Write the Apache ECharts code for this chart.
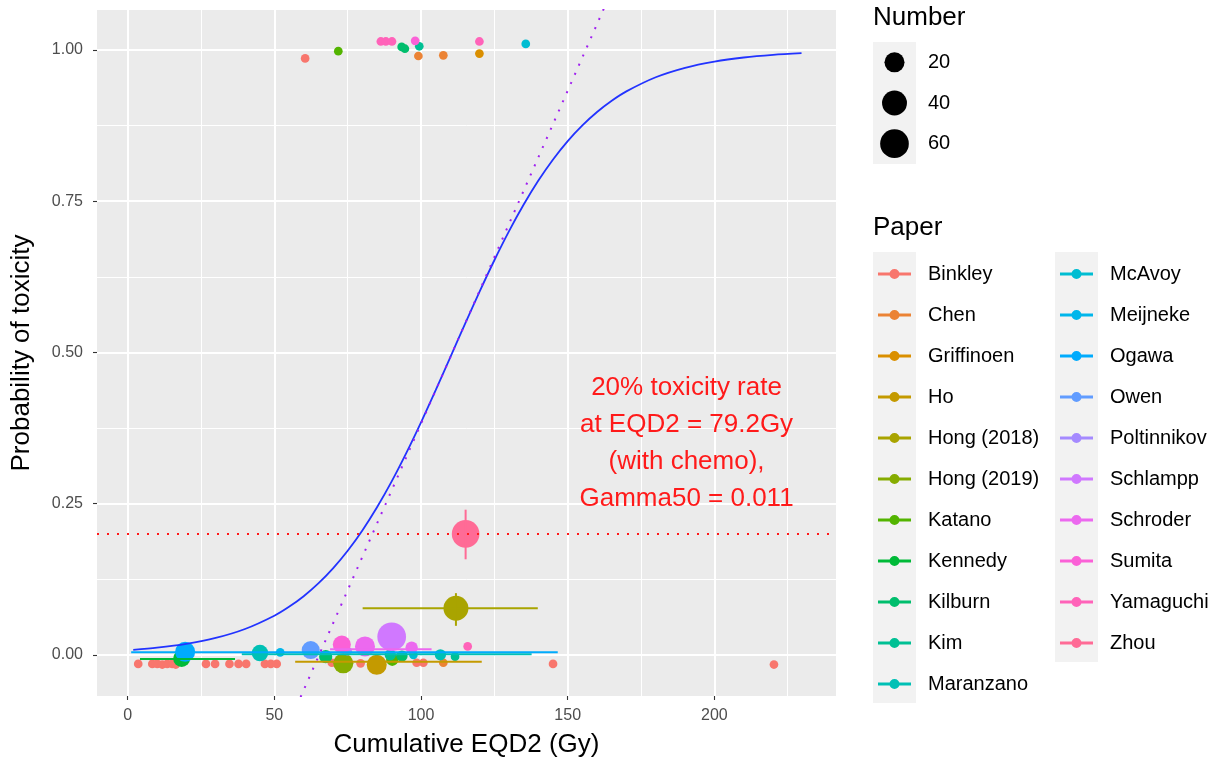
<!DOCTYPE html>
<html>
<head>
<meta charset="utf-8">
<style>
  html, body { margin: 0; padding: 0; background: #ffffff; }
  #chart { width: 1232px; height: 760px; }
</style>
<script src="https://cdn.jsdelivr.net/npm/echarts@6/dist/echarts.min.js"></script>
</head>
<body>
<div id="chart"></div>
<script>
// ---- data -------------------------------------------------------------
const papers = ['Binkley', 'Chen', 'Griffinoen', 'Ho', 'Hong (2018)', 'Hong (2019)',
  'Katano', 'Kennedy', 'Kilburn', 'Kim', 'Maranzano', 'McAvoy', 'Meijneke', 'Ogawa',
  'Owen', 'Poltinnikov', 'Schlampp', 'Schroder', 'Sumita', 'Yamaguchi', 'Zhou'];

// [paper, cumulative EQD2 (Gy), observed toxicity rate (jittered), number of patients]
const observations = [
  ['Binkley', 60.5, 0.986, 1],
  ['Binkley', 3.6, -0.015, 1], ['Binkley', 8.4, -0.015, 1], ['Binkley', 10.1, -0.015, 1],
  ['Binkley', 11.8, -0.016, 1], ['Binkley', 13.5, -0.015, 1], ['Binkley', 15.2, -0.015, 1],
  ['Binkley', 16.4, -0.016, 1], ['Binkley', 26.7, -0.015, 1], ['Binkley', 29.8, -0.015, 1],
  ['Binkley', 34.7, -0.015, 1], ['Binkley', 37.8, -0.015, 1], ['Binkley', 40.4, -0.015, 1],
  ['Binkley', 46.8, -0.015, 1], ['Binkley', 48.8, -0.015, 1], ['Binkley', 50.8, -0.015, 1],
  ['Binkley', 69.6, -0.013, 1], ['Binkley', 75.4, -0.014, 1], ['Binkley', 79.4, -0.014, 1],
  ['Binkley', 98.5, -0.013, 1], ['Binkley', 100.8, -0.013, 1], ['Binkley', 145.0, -0.015, 1],
  ['Binkley', 220.3, -0.016, 1],
  ['Chen', 99.1, 0.990, 1], ['Chen', 107.6, 0.991, 1], ['Chen', 107.6, -0.013, 1],
  ['Griffinoen', 119.9, 0.994, 1],
  ['Ho', 84.9, -0.0165, 20],
  ['Hong (2018)', 111.9, 0.077, 40],
  ['Hong (2019)', 73.5, -0.014, 20],
  ['Katano', 71.8, 0.998, 1], ['Katano', 90.2, -0.008, 3],
  ['Kennedy', 18.4, -0.006, 11],
  ['Kilburn', 93.4, 1.005, 1], ['Kilburn', 94.5, 1.002, 1], ['Kilburn', 67.5, -0.003, 4],
  ['Kilburn', 93.5, -0.002, 2],
  ['Kim', 99.4, 1.006, 1], ['Kim', 89.5, 0.000, 2], ['Kim', 111.6, -0.003, 1],
  ['Maranzano', 45.1, 0.003, 10], ['Maranzano', 106.6, 0.000, 2],
  ['McAvoy', 135.7, 1.010, 1], ['McAvoy', 97.4, 0.000, 1],
  ['Meijneke', 52.0, 0.004, 1],
  ['Ogawa', 19.6, 0.005, 20],
  ['Owen', 62.4, 0.008, 14],
  ['Poltinnikov', 75.0, 0.006, 1],
  ['Schlampp', 90.0, 0.030, 60],
  ['Schroder', 80.9, 0.014, 20], ['Schroder', 96.8, 0.012, 3],
  ['Sumita', 73.0, 0.017, 14], ['Sumita', 98.0, 1.015, 1],
  ['Yamaguchi', 86.3, 1.014, 1], ['Yamaguchi', 88.0, 1.014, 1], ['Yamaguchi', 90.1, 1.014, 1],
  ['Yamaguchi', 119.9, 1.014, 1], ['Yamaguchi', 115.9, 0.014, 1],
  ['Zhou', 115.2, 0.200, 54]
];

// dose ranges and rate ranges: [paper, dose from, rate from, dose to, rate to]
const ranges = [
  ['Ogawa', 1.2, 0.0045, 146.6, 0.0045],
  ['Maranzano', 38.9, 0.001, 137.7, 0.001],
  ['Kennedy', 4.2, -0.007, 36.6, -0.007],
  ['Ho', 57.1, -0.0115, 120.7, -0.0115],
  ['Schroder', 69.0, 0.0094, 103.6, 0.0094],
  ['Hong (2018)', 80.1, 0.077, 139.8, 0.077],
  ['Hong (2018)', 111.9, 0.048, 111.9, 0.102],
  ['Zhou', 115.2, 0.158, 115.2, 0.240]
];

// fitted dose-response curve
const curveDose = [1.9, 10, 20, 30, 40, 50, 55, 60, 65, 70, 75, 80, 85, 90, 95, 100, 105,
  110, 115, 120, 125, 130, 135, 140, 145, 150, 155, 160, 165, 170, 180, 190, 200, 210,
  220, 229.7];
const curveRate = [0.0083, 0.0118, 0.0182, 0.0279, 0.0427, 0.0647, 0.0794, 0.0970, 0.1181,
  0.1430, 0.1721, 0.2057, 0.2440, 0.2868, 0.3339, 0.3844, 0.4376, 0.4923, 0.5472, 0.6009,
  0.6523, 0.7004, 0.7444, 0.7840, 0.8189, 0.8493, 0.8753, 0.8974, 0.9160, 0.9315, 0.9548,
  0.9704, 0.9807, 0.9875, 0.9919, 0.9947];

// tangent at D50 (slope = Gamma50)
const tangentDose = [56.2, 165.2];
const tangentRate = [-0.1, 1.1];

const toxicityRate = 0.2;
const annotationText = '20% toxicity rate\nat EQD2 = 79.2Gy\n(with chemo),\nGamma50 = 0.011';
const annotationAt = [190.5, 0.35];

const xTicks = [0, 50, 100, 150, 200];
const xMinor = [25, 75, 125, 175, 225];
const yTicks = [0, 0.25, 0.5, 0.75, 1];
const yMinor = [0.125, 0.375, 0.625, 0.875];
const sizeBreaks = [20, 40, 60];

// ---- helpers ----------------------------------------------------------
const FONT = '"Liberation Sans", Arial, Helvetica, sans-serif';
const X_RANGE = [-10.45, 241.45];
const Y_RANGE = [-0.068, 1.066];

// polar CIE-Luv (hcl) to hex, the default discrete hue palette
function hclHex(h, c, l) {
  const hr = h * Math.PI / 180;
  const U = c * Math.cos(hr), V = c * Math.sin(hr);
  const Xn = 95.047, Yn = 100, Zn = 108.883;
  const den = Xn + 15 * Yn + 3 * Zn;
  const un = 4 * Xn / den, vn = 9 * Yn / den;
  const Y = l > 8 ? Yn * Math.pow((l + 16) / 116, 3) : Yn * l / 903.3;
  const u = U / (13 * l) + un, v = V / (13 * l) + vn;
  const X = 9 * Y * u / (4 * v);
  const Z = 3 * Y / v - X / 3 - 5 * Y;
  const x = X / 100, y = Y / 100, z = Z / 100;
  const lin = [
    3.240479 * x - 1.537150 * y - 0.498535 * z,
    -0.969256 * x + 1.875992 * y + 0.041556 * z,
    0.055648 * x - 0.204043 * y + 1.057311 * z
  ];
  return '#' + lin.map(t => {
    let g = t <= 0.0031308 ? 12.92 * t : 1.055 * Math.pow(t, 1 / 2.4) - 0.055;
    g = Math.min(1, Math.max(0, g));
    return Math.round(g * 255).toString(16).padStart(2, '0');
  }).join('');
}
const colorOf = {};
papers.forEach((p, i) => { colorOf[p] = hclHex(15 + i * 360 / papers.length, 100, 65); });

// point diameter from the number of patients (area scale)
function sizeOf(n) { return 8.7 + 2.6 * Math.sqrt(Math.max(n - 1, 0)); }

// legend key: a short line with a dot; the far anchors keep room before the text
const keyIcon = 'path://M0,5h0.01v0.01h-0.01Z M5,3.6H38V6.4H5Z ' +
  'M16.5,5A5,5,0,0,1,26.5,5A5,5,0,0,1,16.5,5Z M50,5h0.01v0.01h-0.01Z';

// ---- series -----------------------------------------------------------
const series = [];

papers.forEach(p => {
  series.push({
    name: p,
    type: 'scatter',
    xAxisIndex: 0, yAxisIndex: 0,
    data: observations.filter(o => o[0] === p).map(o => [o[1], o[2], o[3]]),
    symbolSize: v => sizeOf(v[2]),
    itemStyle: { color: colorOf[p], opacity: 1 },
    emphasis: { disabled: true },
    z: 2
  });
});

papers.forEach(p => {
  const segs = ranges.filter(r => r[0] === p);
  if (!segs.length) return;
  series.push({
    name: p,
    type: 'custom',
    xAxisIndex: 0, yAxisIndex: 0,
    data: segs.map(r => [r[1], r[2], r[3], r[4]]),
    encode: { x: [0, 2], y: [1, 3] },
    itemStyle: { color: colorOf[p] },
    renderItem: (params, api) => {
      const a = api.coord([api.value(0), api.value(1)]);
      const b = api.coord([api.value(2), api.value(3)]);
      return {
        type: 'line',
        shape: { x1: a[0], y1: a[1], x2: b[0], y2: b[1] },
        style: { stroke: colorOf[p], lineWidth: 2 }
      };
    },
    z: 3
  });
});

series.push({
  name: 'fit',
  type: 'line',
  xAxisIndex: 0, yAxisIndex: 0,
  data: curveDose.map((d, i) => [d, curveRate[i]]),
  showSymbol: false,
  smooth: 0.3,
  lineStyle: { color: '#2233FF', width: 1.8 },
  emphasis: { disabled: true },
  markLine: {
    silent: true,
    symbol: 'none',
    label: { show: false },
    lineStyle: { color: '#FF1A1A', width: 2, type: [2, 8], opacity: 1 },
    data: [{ yAxis: toxicityRate }]
  },
  z: 4
});

series.push({
  name: 'tangent',
  type: 'line',
  xAxisIndex: 0, yAxisIndex: 0,
  data: tangentDose.map((d, i) => [d, tangentRate[i]]),
  showSymbol: false,
  clip: true,
  lineStyle: { color: '#A020F0', width: 2, type: [2, 8] },
  emphasis: { disabled: true },
  z: 4
});

series.push({
  name: 'note',
  type: 'scatter',
  xAxisIndex: 0, yAxisIndex: 0,
  data: [annotationAt],
  symbolSize: 0,
  itemStyle: { opacity: 1 },
  label: {
    show: true,
    position: 'inside',
    formatter: annotationText,
    color: '#FF1A1A',
    opacity: 1,
    fontFamily: FONT,
    fontSize: 26,
    lineHeight: 37,
    align: 'center'
  },
  emphasis: { disabled: true },
  z: 5
});

series.push({
  name: 'sizeKey',
  type: 'scatter',
  xAxisIndex: 2, yAxisIndex: 2,
  data: sizeBreaks.map(n => [0.5, String(n), n]),
  symbolSize: v => sizeOf(v[2]),
  itemStyle: { color: '#000000', opacity: 1 },
  emphasis: { disabled: true }
});

// ---- axes -------------------------------------------------------------
const gridLine = w => ({ show: true, lineStyle: { color: '#FFFFFF', width: w } });
const tickStyle = { color: '#333333', width: 1.1 };
const noLine = { show: false, onZero: false };

const option = {
  animation: false,
  backgroundColor: '#FFFFFF',
  textStyle: { fontFamily: FONT },
  title: [
    { text: 'Number', left: 873, top: 5, padding: 0,
      textStyle: { fontSize: 26, fontWeight: 'normal', color: '#000', fontFamily: FONT } },
    { text: 'Paper', left: 873, top: 215, padding: 0,
      textStyle: { fontSize: 26, fontWeight: 'normal', color: '#000', fontFamily: FONT } }
  ],
  // grey backing behind the colour-key symbols
  graphic: [
    { type: 'rect', left: 873, top: 252, z: 0, silent: true,
      shape: { width: 43, height: 451 }, style: { fill: '#F2F2F2' } },
    { type: 'rect', left: 1055, top: 252, z: 0, silent: true,
      shape: { width: 43, height: 410 }, style: { fill: '#F2F2F2' } }
  ],
  grid: [
    { left: 97, top: 10, width: 739, height: 686, show: true,
      backgroundColor: '#EBEBEB', borderWidth: 0, outerBoundsMode: 'none' },
    { left: 873, top: 42, width: 43, height: 122, show: true,
      backgroundColor: '#F2F2F2', borderWidth: 0, outerBoundsMode: 'none' }
  ],
  legend: [0, 1].map(col => ({
    orient: 'vertical',
    left: col === 0 ? 873 : 1055,
    top: 264,
    padding: 0,
    itemGap: 21,
    itemWidth: 50,
    itemHeight: 10,
    icon: keyIcon,
    z: 5,
    data: col === 0 ? papers.slice(0, 11) : papers.slice(11),
    textStyle: { fontSize: 20, lineHeight: 20, color: '#000', fontFamily: FONT }
  })),
  xAxis: [
    {
      type: 'value', gridIndex: 0, min: X_RANGE[0], max: X_RANGE[1],
      position: 'bottom',
      name: 'Cumulative EQD2 (Gy)', nameLocation: 'middle', nameGap: 36,
      nameMoveOverlap: false,
      nameTextStyle: { fontSize: 26, color: '#000', fontFamily: FONT },
      axisLine: noLine,
      axisTick: { show: true, length: 4, lineStyle: tickStyle, customValues: xTicks },
      axisLabel: { customValues: xTicks, fontSize: 16, color: '#4D4D4D', margin: 12,
        fontFamily: FONT },
      splitLine: gridLine(2)
    },
    {
      type: 'value', gridIndex: 0, min: X_RANGE[0], max: X_RANGE[1],
      axisLine: noLine,
      axisTick: { show: false, customValues: xMinor },
      axisLabel: { show: false, customValues: xMinor },
      splitLine: gridLine(1)
    },
    { type: 'value', gridIndex: 1, min: 0, max: 1, show: false }
  ],
  yAxis: [
    {
      type: 'value', gridIndex: 0, min: Y_RANGE[0], max: Y_RANGE[1],
      position: 'left',
      name: 'Probability of toxicity', nameLocation: 'middle', nameGap: 62,
      nameMoveOverlap: false,
      nameTextStyle: { fontSize: 26, color: '#000', fontFamily: FONT },
      axisLine: noLine,
      axisTick: { show: true, length: 4, lineStyle: tickStyle, customValues: yTicks },
      axisLabel: { customValues: yTicks, fontSize: 16, color: '#4D4D4D', margin: 14,
        fontFamily: FONT, formatter: v => Number(v).toFixed(2) },
      splitLine: gridLine(2)
    },
    {
      type: 'value', gridIndex: 0, min: Y_RANGE[0], max: Y_RANGE[1],
      axisLine: noLine,
      axisTick: { show: false, customValues: yMinor },
      axisLabel: { show: false, customValues: yMinor },
      splitLine: gridLine(1)
    },
    {
      type: 'category', gridIndex: 1, data: sizeBreaks.map(String), inverse: true,
      position: 'right',
      axisLine: noLine, axisTick: { show: false }, splitLine: { show: false },
      axisLabel: { fontSize: 20, color: '#000', margin: 12, fontFamily: FONT }
    }
  ],
  series: series
};

const chart = echarts.init(document.getElementById('chart'), null, { renderer: 'canvas' });
chart.setOption(option);
</script>
</body>
</html>
